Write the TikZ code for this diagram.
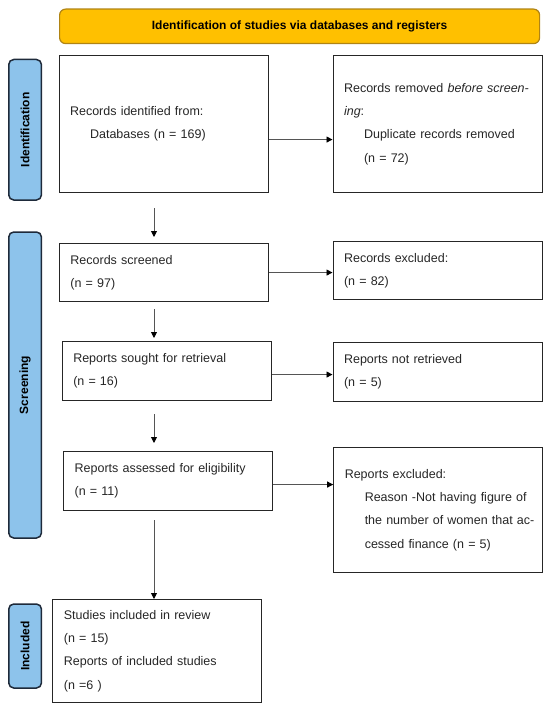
\documentclass[tikz,border=0pt]{standalone}
\usepackage{fontspec}
\setmainfont{Liberation Sans}
\usepackage{xcolor}
\usepackage{tikz}
\usetikzlibrary{positioning,arrows.meta,calc}
\definecolor{bannergold}{RGB}{255,192,0}
\definecolor{bannerrim}{RGB}{176,132,20}
\definecolor{stageblue}{RGB}{141,195,235}
\definecolor{stagerim}{RGB}{30,42,58}
\definecolor{flowgray}{RGB}{85,85,85}
\tikzset{
  banner/.style = {draw=bannerrim, fill=bannergold, rounded corners=6pt, line width=1.2pt, anchor=north west,
                   minimum width=480pt, minimum height=34.5pt, font=\fontsize{12}{14}\selectfont\bfseries},
  stage/.style  = {draw=stagerim, fill=stageblue, rounded corners=5pt, line width=1.5pt, rotate=90,
                   minimum height=32.7pt, inner sep=0pt, font=\fontsize{12}{14}\selectfont\bfseries},
  pbox/.style   = {draw=black!85, line width=1.1pt, anchor=north west, align=left, text=black!85,
                   text width=187pt, inner xsep=11pt, font=\fontsize{12.5}{23.3}\selectfont},
  flow/.style   = {-{Triangle[length=6pt,width=6pt,color=black]}, line width=0.9pt, draw=flowgray},
}
\newcommand{\ind}[1]{\mbox{\hspace*{20pt}#1}}

\begin{document}
\begin{tikzpicture}[x=1pt, y=-1pt]
  \useasboundingbox (0,0) rectangle (550,709);
  % header and phase labels
  \node[banner] (hdr) at (59,8.5) {Identification of studies via databases and registers};
  \node[stage, minimum width=140.5pt] (stid)  at (25.1,129.75) {Identification};
  \node[stage, minimum width=306pt]   (stscr) at (25.1,385)    {Screening};
  \node[stage, minimum width=84pt]    (stinc) at (25.1,646)    {Included};

  % main column
  \node[pbox, minimum height=137pt] (idrec)  at (58.5,55)  {Records identified from:\\ \ind{Databases (n = 169)}};
  \node[pbox, minimum height=58pt]  (scr)    at (58.9,243) {Records screened\\ (n = 97)};
  \node[pbox, minimum height=59pt]  (sought) at (61.7,341) {Reports sought for retrieval\\ (n = 16)};
  \node[pbox, minimum height=59pt]  (elig)   at (63.1,451) {Reports assessed for eligibility\\ (n = 11)};
  \node[pbox, minimum height=103pt] (incl)   at (52.3,599) {Studies included in review\\ (n = 15)\\ Reports of included studies\\ (n =6 )};

  % side column
  \node[pbox, minimum height=137pt] (idrem)  at (332.5,55)  {Records removed \textit{before screen-}\\ \textit{ing}:\\ \ind{Duplicate records removed}\\ \ind{(n = 72)}};
  \node[pbox, minimum height=58pt]  (scrx)   at (332.5,241) {Records excluded:\\ (n = 82)};
  \node[pbox, minimum height=59pt]  (notret) at (332.5,342) {Reports not retrieved\\ (n = 5)};
  \node[pbox, minimum height=125pt] (repx)   at (333.2,447) {Reports excluded:\\ \ind{Reason -Not having figure of}\\ \ind{the number of women that ac-}\\ \ind{cessed finance (n = 5)}};

  % arrows
  \coordinate (spine) at (154,0);
  \draw[flow, shorten <=15pt, shorten >=6pt] (idrec.south -| spine) -- (scr.north -| spine);
  \draw[flow, shorten <=7pt, shorten >=3pt]  (scr.south -| spine) -- (sought.north -| spine);
  \draw[flow, shorten <=13pt, shorten >=8pt] (sought.south -| spine) -- (elig.north -| spine);
  \draw[flow, shorten <=9pt]                 (elig.south -| spine) -- (incl.north -| spine);

  \coordinate (h1) at ([yshift=-15.5pt]idrec.east);
  \coordinate (h2) at (scr.east);
  \coordinate (h3) at ([yshift=-3.5pt]sought.east);
  \coordinate (h4) at ([yshift=-3.5pt]elig.east);
  \draw[flow] (h1) -- (h1 -| idrem.west);
  \draw[flow] (h2) -- (h2 -| scrx.west);
  \draw[flow] (h3) -- (h3 -| notret.west);
  \draw[flow] (h4) -- (h4 -| repx.west);
\end{tikzpicture}
\end{document}
